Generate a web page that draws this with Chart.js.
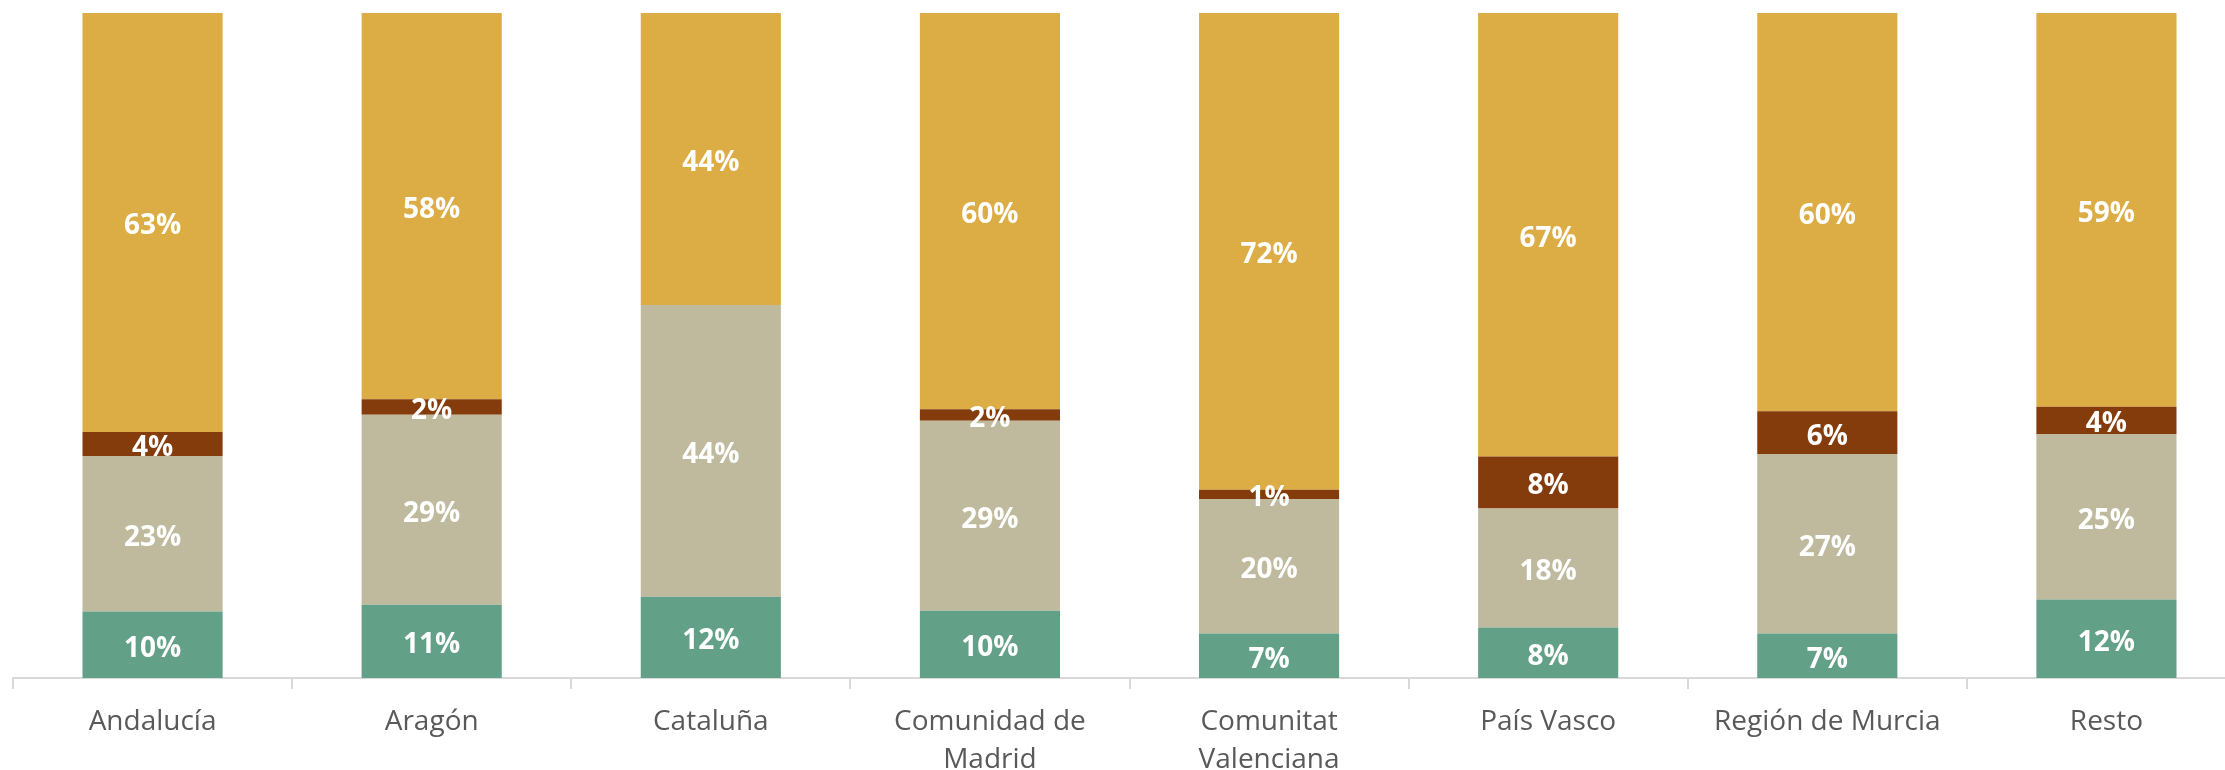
<!DOCTYPE html>
<html lang="es">
<head>
<meta charset="utf-8">
<title>Distribución por comunidad</title>
<script src="https://cdn.jsdelivr.net/npm/chart.js@4"></script>
<style>
    html, body { margin: 0; padding: 0; background: #fff; overflow: hidden; }
    #wrap { position: relative; width: 2250px; height: 770px; }
</style>
</head>
<body>
<div id="wrap"><canvas id="grafico"></canvas></div>
<script>
// Comunidades (etiquetas del eje X, en varias líneas cuando no caben)
const comunidades = [
    'Andalucía',
    'Aragón',
    'Cataluña',
    ['Comunidad de', 'Madrid'],
    ['Comunitat', 'Valenciana'],
    'País Vasco',
    'Región de Murcia',
    'Resto'
];

// Porcentajes de cada tramo, de abajo arriba
const tramoVerde  = [10.0, 11.0, 12.2, 10.1,  6.7,  7.6,  6.7, 11.8];
const tramoBeige  = [23.4, 28.6, 43.9, 28.6, 20.2, 17.9, 27.0, 24.9];
const tramoMarron = [ 3.6,  2.3,  0.0,  1.7,  1.4,  7.8,  6.4,  4.1];
const tramoOro    = [63.0, 58.1, 43.9, 59.6, 71.7, 66.7, 59.9, 59.2];

const colores = {
    verde: '#62a087',
    beige: '#bfba9e',
    marron: '#843c0c',
    oro: '#dcac45'
};

const FUENTE = '"Open Sans", "Liberation Sans", sans-serif';

// Etiqueta blanca centrada en cada tramo
const etiquetasTramos = {
    id: 'etiquetasTramos',
    afterDatasetsDraw(chart) {
        const ctx = chart.ctx;
        ctx.save();
        ctx.fillStyle = '#ffffff';
        ctx.font = 'bold 28px ' + FUENTE;
        ctx.textAlign = 'center';
        ctx.textBaseline = 'middle';
        chart.data.datasets.forEach((ds, i) => {
            const meta = chart.getDatasetMeta(i);
            meta.data.forEach((bar, j) => {
                const v = ds.data[j];
                if (!v) return;
                const y = (bar.y + bar.base) / 2;
                ctx.fillText(Math.round(v) + '%', bar.x, y + 4);
            });
        });
        ctx.restore();
    }
};

function serie(nombre, datos, color) {
    return {
        label: nombre,
        data: datos,
        backgroundColor: color,
        borderWidth: 0,
        categoryPercentage: 1,
        barPercentage: 0.502
    };
}

new Chart(document.getElementById('grafico'), {
    type: 'bar',
    data: {
        labels: comunidades,
        datasets: [
            serie('Verde', tramoVerde, colores.verde),
            serie('Beige', tramoBeige, colores.beige),
            serie('Marrón', tramoMarron, colores.marron),
            serie('Oro', tramoOro, colores.oro)
        ]
    },
    options: {
        responsive: true,
        maintainAspectRatio: false,
        animation: false,
        layout: { padding: { top: 13, left: 13, right: 4, bottom: 0 } },
        plugins: {
            legend: { display: false },
            tooltip: { enabled: false }
        },
        scales: {
            x: {
                stacked: true,
                afterFit(scale) { scale.height = 92; },
                grid: {
                    display: true,
                    drawOnChartArea: false,
                    drawTicks: true,
                    tickLength: 11,
                    color: '#d9d9d9',
                    lineWidth: 2
                },
                border: { display: true, color: '#d9d9d9', width: 2 },
                ticks: {
                    color: '#595959',
                    padding: 14,
                    maxRotation: 0,
                    autoSkip: false,
                    font: { family: FUENTE, size: 28, lineHeight: 1.35 }
                }
            },
            y: {
                stacked: true,
                display: false,
                min: 0,
                max: 100
            }
        }
    },
    plugins: [etiquetasTramos]
});
</script>
</body>
</html>
